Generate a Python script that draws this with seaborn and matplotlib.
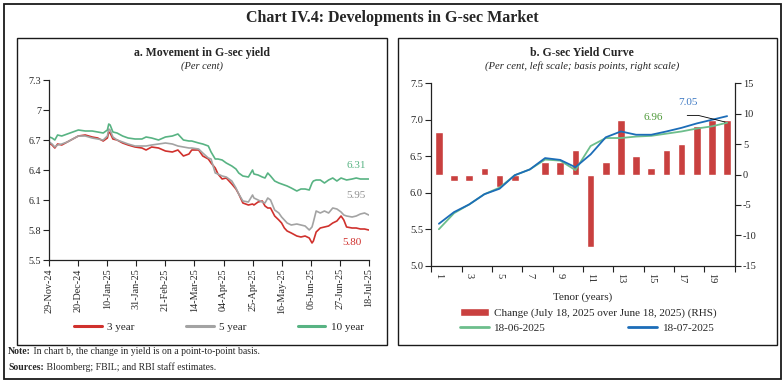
import matplotlib
matplotlib.use('Agg')
import matplotlib.pyplot as plt
from matplotlib.patches import Rectangle
from matplotlib.ticker import FormatStrFormatter
import numpy as np
import pandas as pd
import seaborn as sns

# --- Chart a: G-sec yields (per cent) ---
dates = [
    '2024-11-29', '2024-12-01', '2024-12-03', '2024-12-05', '2024-12-08', '2024-12-12',
    '2024-12-16', '2024-12-20', '2024-12-25', '2024-12-30', '2025-01-03', '2025-01-07',
    '2025-01-10', '2025-01-11', '2025-01-12', '2025-01-14', '2025-01-17', '2025-01-21',
    '2025-01-25', '2025-01-30', '2025-02-04', '2025-02-07', '2025-02-11', '2025-02-16',
    '2025-02-21', '2025-02-26', '2025-03-02', '2025-03-06', '2025-03-10', '2025-03-12',
    '2025-03-17', '2025-03-20', '2025-03-24', '2025-03-26', '2025-03-29', '2025-03-31',
    '2025-04-03', '2025-04-06', '2025-04-10', '2025-04-13', '2025-04-15', '2025-04-18',
    '2025-04-22', '2025-04-25', '2025-04-26', '2025-04-29', '2025-05-02', '2025-05-04',
    '2025-05-06', '2025-05-08', '2025-05-11', '2025-05-14', '2025-05-16', '2025-05-18',
    '2025-05-20', '2025-05-23', '2025-05-27', '2025-05-30', '2025-06-02', '2025-06-05',
    '2025-06-07', '2025-06-08', '2025-06-10', '2025-06-13', '2025-06-16', '2025-06-19',
    '2025-06-22', '2025-06-25', '2025-06-28', '2025-06-30', '2025-07-02', '2025-07-06',
    '2025-07-09', '2025-07-12', '2025-07-15', '2025-07-18',
]
yield_3y = [
    6.67, 6.65, 6.62, 6.66, 6.65, 6.68, 6.71, 6.74, 6.75, 6.73, 6.72, 6.69,
    6.72, 6.78, 6.77, 6.71, 6.70, 6.67, 6.65, 6.63, 6.62, 6.60, 6.63, 6.62,
    6.59, 6.58, 6.60, 6.54, 6.56, 6.60, 6.60, 6.54, 6.51, 6.47, 6.42, 6.36,
    6.31, 6.32, 6.26, 6.21, 6.16, 6.07, 6.05, 6.06, 6.05, 6.08, 6.09, 6.04,
    6.02, 6.02, 5.94, 5.90, 5.87, 5.82, 5.79, 5.77, 5.74, 5.73, 5.74, 5.72,
    5.67, 5.69, 5.78, 5.82, 5.83, 5.84, 5.87, 5.89, 5.94, 5.90, 5.83, 5.82,
    5.82, 5.81, 5.81, 5.80,
]
yield_5y = [
    6.68, 6.66, 6.63, 6.65, 6.66, 6.68, 6.71, 6.74, 6.74, 6.72, 6.71, 6.70,
    6.74, 6.81, 6.80, 6.73, 6.70, 6.68, 6.66, 6.64, 6.64, 6.64, 6.65, 6.66,
    6.67, 6.66, 6.64, 6.63, 6.62, 6.62, 6.61, 6.57, 6.52, 6.51, 6.37, 6.36,
    6.34, 6.33, 6.29, 6.22, 6.16, 6.09, 6.08, 6.15, 6.12, 6.10, 6.08, 6.07,
    6.12, 6.10, 6.00, 5.97, 5.93, 5.90, 5.87, 5.85, 5.86, 5.85, 5.84, 5.80,
    5.83, 5.88, 5.99, 5.97, 5.99, 5.97, 6.02, 6.01, 5.98, 5.95, 5.94, 5.93,
    5.94, 5.96, 5.97, 5.95,
]
yield_10y = [
    6.73, 6.72, 6.70, 6.75, 6.74, 6.76, 6.78, 6.80, 6.79, 6.79, 6.78, 6.77,
    6.80, 6.86, 6.85, 6.78, 6.77, 6.74, 6.72, 6.71, 6.71, 6.73, 6.72, 6.70,
    6.73, 6.74, 6.76, 6.70, 6.69, 6.69, 6.67, 6.66, 6.64, 6.58, 6.51, 6.51,
    6.50, 6.47, 6.44, 6.41, 6.37, 6.34, 6.33, 6.40, 6.36, 6.35, 6.33, 6.32,
    6.37, 6.34, 6.29, 6.27, 6.26, 6.25, 6.24, 6.22, 6.19, 6.21, 6.21, 6.20,
    6.27, 6.29, 6.30, 6.30, 6.27, 6.30, 6.32, 6.29, 6.32, 6.31, 6.30, 6.31,
    6.32, 6.31, 6.31, 6.31,
]
date_ticks = ['2024-11-29', '2024-12-20', '2025-01-10', '2025-01-31', '2025-02-21', '2025-03-14',
              '2025-04-04', '2025-04-25', '2025-05-16', '2025-06-06', '2025-06-27', '2025-07-18']
y_ticks_a = [5.5, 5.8, 6.1, 6.4, 6.7, 7.0, 7.3]

# --- Chart b: yield curve ---
tenor = list(range(1, 21))
curve_jun = [5.50, 5.72, 5.84, 5.98, 6.07, 6.24, 6.32, 6.455, 6.44, 6.31,
             6.64, 6.75, 6.75, 6.77, 6.78, 6.81, 6.84, 6.88, 6.91, 6.96]
curve_jul = [5.575, 5.735, 5.84, 5.98, 6.055, 6.24, 6.32, 6.475, 6.45, 6.35,
             6.525, 6.76, 6.84, 6.795, 6.795, 6.84, 6.89, 6.95, 7.00, 7.05]
change_bps = [7, -1, -1, 1, -2, -1, 0, 2, 2, 4, -12, 2, 9, 3, 1, 4, 5, 8, 9, 9]

RED = '#D0312D'
GREY = '#A3A3A3'
GREEN = '#58B383'
BAR_RED = '#C9403F'
GREEN_B = '#6DBE8C'
BLUE = '#1C6DB8'

sns.set_theme(style='white')
plt.rcParams['font.family'] = ['Liberation Serif', 'DejaVu Serif']
plt.rcParams['axes.unicode_minus'] = False

W, H = 784, 383
fig = plt.figure(figsize=(W / 100, H / 100), dpi=100)


def fx(x):
    return x / W


def fy(y):
    return 1 - y / H


def box(x0, y0, x1, y1, lw=1.0):
    fig.patches.append(Rectangle((fx(x0), fy(y1)), fx(x1) - fx(x0), fy(y0) - fy(y1),
                                 transform=fig.transFigure, fill=False, lw=lw, ec='#1a1a1a'))


box(4, 4, 781, 379, lw=1.3)
box(17, 38, 387, 345)
box(398, 38, 777, 345)

fig.text(0.5, fy(18), 'Chart IV.4: Developments in G-sec Market', ha='center', va='center',
         fontsize=11.5, fontweight='bold')

# ---------------- chart a ----------------
ax1 = fig.add_axes([fx(49.3), fy(260), (368.7 - 49.3) / W, (260 - 80) / H])
df = pd.DataFrame({'date': pd.to_datetime(dates), '3 year': yield_3y,
                   '5 year': yield_5y, '10 year': yield_10y})
df = df.melt(id_vars='date', var_name='series', value_name='yield')
sns.lineplot(data=df, x='date', y='yield', hue='series', ax=ax1, lw=1.2,
             palette={'3 year': RED, '5 year': GREY, '10 year': GREEN})
ax1.set_xlim(pd.Timestamp(date_ticks[0]), pd.Timestamp(date_ticks[-1]))
ax1.set_ylim(5.5, 7.3)
ax1.set_yticks(y_ticks_a)
ax1.set_yticklabels([f'{v:g}' for v in y_ticks_a])
tick_dates = pd.to_datetime(date_ticks)
ax1.set_xticks(tick_dates)
ax1.set_xticklabels([d.strftime('%d-%b-%y') for d in tick_dates], rotation=90)
ax1.set_xlabel('')
ax1.set_ylabel('')
sns.despine(ax=ax1)
for s in ['left', 'bottom']:
    ax1.spines[s].set_color('#222222')
    ax1.spines[s].set_linewidth(0.9)
ax1.tick_params(axis='both', length=4, width=0.8, color='#222222', labelsize=7.3,
                left=True, bottom=True, pad=2)

ax1.text(pd.Timestamp('2025-07-09'), 6.44, '6.31', color=GREEN, ha='center', va='center', fontsize=8)
ax1.text(pd.Timestamp('2025-07-09'), 6.145, '5.95', color='#909090', ha='center', va='center', fontsize=8)
ax1.text(pd.Timestamp('2025-07-06'), 5.675, '5.80', color=RED, ha='center', va='center', fontsize=8)

sns.move_legend(ax1, 'center left', bbox_to_anchor=(fx(74), fy(327)), bbox_transform=fig.transFigure,
                ncol=3, frameon=False, title=None, fontsize=8, handlelength=2.5,
                columnspacing=4.6, borderaxespad=0, borderpad=0, handletextpad=0.5)
for h in ax1.get_legend().get_lines():
    h.set_linewidth(2.2)

fig.text(fx(202), fy(53), 'a. Movement in G-sec yield', ha='center', va='center',
         fontsize=8.5, fontweight='bold')
fig.text(fx(202), fy(66), '(Per cent)', ha='center', va='center', fontsize=7.5, style='italic')

# ---------------- chart b ----------------
ax2 = fig.add_axes([fx(431.3), fy(265.7), (734.7 - 431.3) / W, (265.7 - 83.3) / H])
ax3 = ax2.twinx()
sns.barplot(x=tenor, y=change_bps, native_scale=True, color=BAR_RED, saturation=1,
            width=0.5, ax=ax3)
sns.lineplot(x=tenor, y=curve_jun, ax=ax2, color=GREEN_B, lw=1.3)
sns.lineplot(x=tenor, y=curve_jul, ax=ax2, color=BLUE, lw=1.3)
ax2.set_zorder(ax3.get_zorder() + 1)
ax2.patch.set_visible(False)

ax2.set_xlim(0.5, 20.5)
ax2.set_ylim(5.0, 7.5)
ax2.set_yticks(np.arange(5.0, 7.51, 0.5))
ax2.yaxis.set_major_formatter(FormatStrFormatter('%.1f'))
ax3.set_ylim(-15, 15)
ax3.set_yticks(np.arange(-15, 16, 5))
ax3.set_yticklabels([str(v) for v in np.arange(-15, 16, 5)])

odd = list(range(1, 20, 2))
ax2.set_xticks(odd)
ax2.set_xticklabels([str(v) for v in odd], rotation=270)
ax2.set_xticks(np.arange(0.5, 21, 2), minor=True)
ax2.tick_params(axis='x', which='major', length=0, labelsize=7.5, pad=5)
ax2.tick_params(axis='x', which='minor', length=4, width=0.8, bottom=True, color='#222222')
ax2.tick_params(axis='y', length=4, width=0.8, left=True, color='#222222', labelsize=7.5, pad=2)
ax3.tick_params(axis='y', length=4, width=0.8, right=True, color='#222222', labelsize=7.5, pad=2)
ax2.set_xlabel('')
ax2.set_ylabel('')
ax3.set_ylabel('')

for s in ['top', 'right']:
    ax2.spines[s].set_visible(False)
for s in ['top', 'left', 'bottom']:
    ax3.spines[s].set_visible(False)
for sp in [ax2.spines['left'], ax2.spines['bottom'], ax3.spines['right']]:
    sp.set_color('#222222')
    sp.set_linewidth(0.9)

ax2.text(15.16, 7.03, '6.96', color='#4F9A3A', ha='center', va='center', fontsize=8)
ax2.text(17.42, 7.23, '7.05', color='#3C78C3', ha='center', va='center', fontsize=8)
ax2.plot([17.37, 18.1, 19.86], [7.06, 7.06, 6.97], color='black', lw=0.6)

fig.text(fx(583), fy(297), 'Tenor (years)', ha='center', va='center', fontsize=8)

bar_handle = ax3.containers[0]
fig.legend([bar_handle], ['Change (July 18, 2025 over June 18, 2025) (RHS)'], loc='center left',
           bbox_to_anchor=(fx(460), fy(313)), frameon=False, fontsize=8, handlelength=2.6,
           handleheight=0.7, borderaxespad=0, borderpad=0, handletextpad=0.5)
line_handles = ax2.get_lines()[:2]
fig.legend(line_handles, ['18-06-2025', '18-07-2025'], loc='center left',
           bbox_to_anchor=(fx(460), fy(328)), ncol=2, frameon=False, fontsize=8,
           handlelength=2.6, columnspacing=7.4, borderaxespad=0, borderpad=0, handletextpad=0.5)
for lg in fig.legends[1:]:
    for h in lg.get_lines():
        h.set_linewidth(2.0)

fig.text(fx(582), fy(53), 'b. G-sec Yield Curve', ha='center', va='center',
         fontsize=8.5, fontweight='bold')
fig.text(fx(582), fy(66), '(Per cent, left scale; basis points, right scale)', ha='center',
         va='center', fontsize=7.7, style='italic')

# ---------------- notes ----------------
fig.canvas.draw()
renderer = fig.canvas.get_renderer()
for ypos, head, body in [(352, 'Note:', ' In chart b, the change in yield is on a point-to-point basis.'),
                         (367, 'Sources:', ' Bloomberg; FBIL; and RBI staff estimates.')]:
    t = fig.text(fx(8), fy(ypos), head, ha='left', va='center', fontsize=7, fontweight='bold')
    bb = t.get_window_extent(renderer)
    fig.text(bb.x1 / fig.bbox.width, fy(ypos), body, ha='left', va='center', fontsize=7)

fig.savefig('out.png', dpi=100)
